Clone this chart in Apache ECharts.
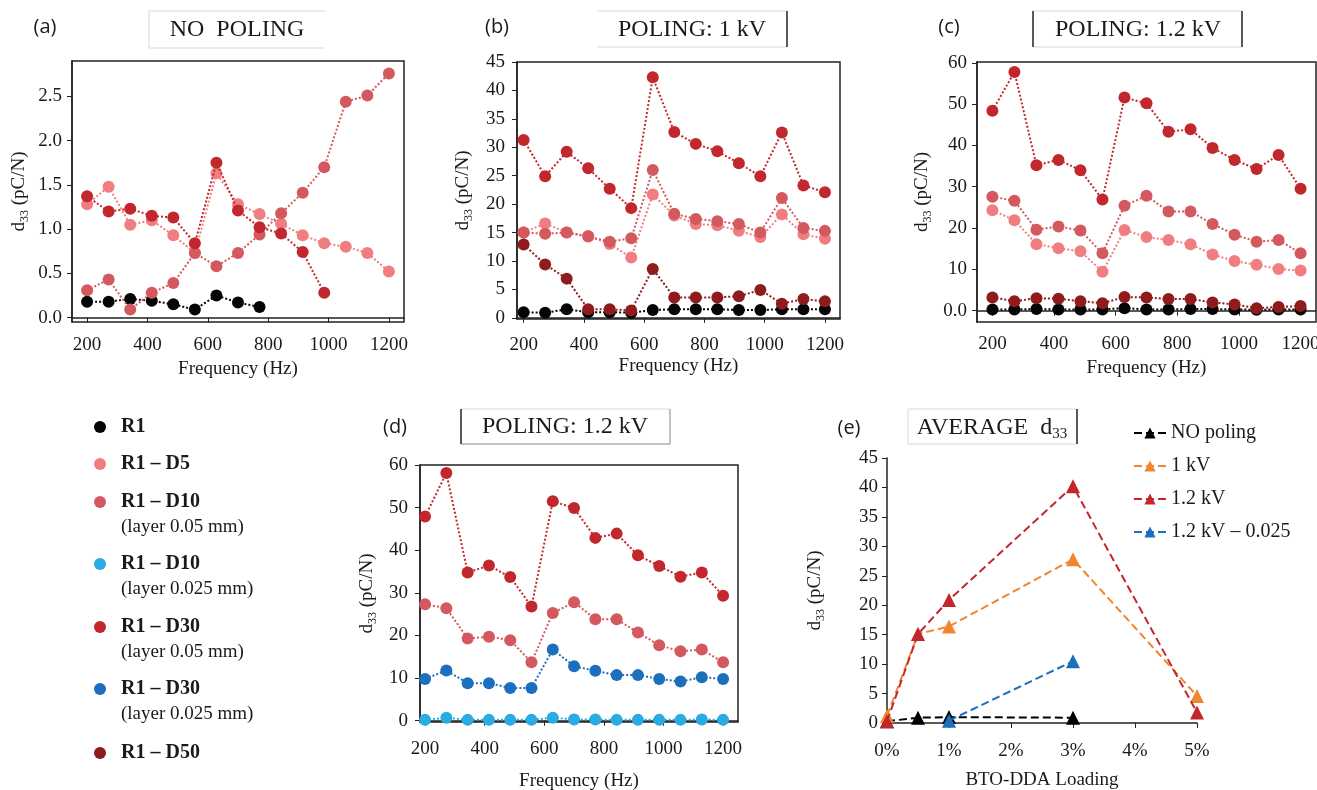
<!DOCTYPE html>
<html>
<head>
<meta charset="utf-8">
<script src="https://cdn.jsdelivr.net/npm/echarts@6/dist/echarts.min.js"></script>
<style>
  html, body { margin: 0; background: #fff; }
  #chart { width: 1317px; height: 790px; }
</style>
</head>
<body>
<div id="chart"></div>
<script>
// frequencies (Hz) of the measurement points
const freq = [200, 271.4, 342.9, 414.3, 485.7, 557.1, 628.6, 700, 771.4, 842.9, 914.3, 985.7, 1057.1, 1128.6, 1200]
const freqTicks = [200, 400, 600, 800, 1000, 1200]

// (a) no poling
const aR1 = [0.18, 0.18, 0.21, 0.19, 0.15, 0.09, 0.25, 0.17, 0.12]
const aD5 = [1.28, 1.48, 1.05, 1.10, 0.93, 0.73, 1.63, 1.28, 1.17, 1.06, 0.93, 0.84, 0.80, 0.73, 0.52]
const aD10 = [0.31, 0.43, 0.09, 0.28, 0.39, 0.73, 0.58, 0.73, 0.94, 1.18, 1.41, 1.70, 2.44, 2.51, 2.76]
const aD30 = [1.37, 1.20, 1.23, 1.15, 1.13, 0.84, 1.75, 1.21, 1.02, 0.95, 0.74, 0.28]
const aTicks = [0, 0.5, 1, 1.5, 2, 2.5]

// (b) poling 1 kV
const bR1 = [1.0, 0.9, 1.5, 1.0, 1.0, 0.9, 1.4, 1.5, 1.5, 1.5, 1.4, 1.4, 1.5, 1.5, 1.5]
const bD5 = [15.0, 16.6, 15.0, 14.4, 13.0, 10.6, 21.7, 18.0, 16.5, 16.3, 15.3, 14.2, 18.2, 14.7, 13.9]
const bD10 = [15.0, 14.8, 15.0, 14.3, 13.4, 14.0, 26.0, 18.3, 17.4, 17.0, 16.5, 15.0, 21.1, 15.8, 15.3]
const bD30 = [31.3, 24.9, 29.2, 26.3, 22.7, 19.3, 42.3, 32.7, 30.6, 29.3, 27.2, 24.9, 32.6, 23.3, 22.1]
const bD50 = [12.9, 9.4, 6.9, 1.5, 1.5, 1.3, 8.6, 3.6, 3.6, 3.6, 3.8, 4.9, 2.5, 3.3, 2.9]
const bTicks = [0, 5, 10, 15, 20, 25, 30, 35, 40, 45]

// (c) poling 1.2 kV
const cR1 = [0.3, 0.3, 0.4, 0.3, 0.3, 0.3, 0.6, 0.3, 0.3, 0.4, 0.4, 0.3, 0.2, 0.3, 0.3]
const cD5 = [24.3, 21.9, 16.1, 15.1, 14.4, 9.4, 19.5, 17.8, 17.1, 16.1, 13.6, 12.0, 11.1, 10.1, 9.7]
const cD10 = [27.6, 26.6, 19.6, 20.4, 19.4, 13.9, 25.4, 27.8, 24.0, 24.0, 21.0, 18.4, 16.7, 17.1, 13.9]
const cD30 = [48.4, 57.8, 35.2, 36.5, 34.0, 26.9, 51.6, 50.2, 43.3, 43.9, 39.4, 36.5, 34.3, 37.7, 29.5]
const cD50 = [3.2, 2.3, 3.0, 2.9, 2.3, 1.8, 3.3, 3.2, 2.8, 2.8, 2.0, 1.5, 0.6, 0.9, 1.1]
const cTicks = [0, 10, 20, 30, 40, 50, 60]

// (d) poling 1.2 kV, layer thickness
const dD10 = [27.3, 26.4, 19.3, 19.7, 18.9, 13.7, 25.3, 27.8, 23.8, 23.8, 20.7, 17.7, 16.3, 16.7, 13.7]
const dD30 = [47.9, 58.1, 34.8, 36.4, 33.7, 26.8, 51.5, 49.9, 42.9, 43.9, 38.8, 36.3, 33.8, 34.8, 29.3]
const dD10thin = [0.2, 0.7, 0.2, 0.2, 0.2, 0.2, 0.7, 0.3, 0.3, 0.2, 0.2, 0.2, 0.2, 0.3, 0.2]
const dD30thin = [9.8, 11.8, 8.8, 8.8, 7.7, 7.7, 16.7, 12.8, 11.7, 10.7, 10.7, 9.8, 9.2, 10.2, 9.8]

// (e) average d33 vs loading (%)
const eLoadNoPol = [0, 0.5, 1, 3]
const eNoPol = [0.3, 0.9, 1.0, 0.9]
const eLoad = [0, 0.5, 1, 3, 5]
const e1kV = [1.2, 15.1, 16.4, 27.8, 4.6]
const e12kV = [0.3, 15.1, 20.9, 40.2, 1.8]
const eLoadThin = [1, 3]
const e12kVthin = [0.4, 10.5]
const eTicks = [0, 5, 10, 15, 20, 25, 30, 35, 40, 45]
const eLegend = ['NO poling', '1 kV', '1.2 kV', '1.2 kV \u2013 0.025']

// legend of sample names (left)
const sampleNames = ['R1', 'R1 \u2013 D5', 'R1 \u2013 D10', 'R1 \u2013 D10', 'R1 \u2013 D30', 'R1 \u2013 D30', 'R1 \u2013 D50']
const sampleNotes = ['', '', '(layer 0.05 mm)', '(layer 0.025 mm)', '(layer 0.05 mm)', '(layer 0.025 mm)', '']

const colR1 = '#050505'
const colD5 = '#f07e80'
const colD10 = '#d4595e'
const colD10thin = '#2aabe2'
const colD30 = '#c2272d'
const colD30thin = '#1c6fbd'
const colD50 = '#8f1b1d'
const sampleColors = [colR1, colD5, colD10, colD10thin, colD30, colD30thin, colD50]

const FONT = 'Liberation Serif'
const INK = '#1a1a1a'

const box = { show: true, borderColor: '#222', borderWidth: 1.5, outerBoundsMode: 'none' }
const grids = [
  Object.assign({ left: 72, top: 61, width: 332, height: 261 }, box),
  Object.assign({ left: 517, top: 62, width: 323, height: 257 }, box),
  Object.assign({ left: 977, top: 62, width: 339, height: 260 }, box),
  Object.assign({ left: 420, top: 465, width: 318, height: 257 }, box),
  { left: 887, top: 458, width: 310, height: 265, outerBoundsMode: 'none' }
]

const yName = {
  name: '{m|d}{s|33}{m| (pC/N)}',
  nameLocation: 'middle',
  nameRotate: 90,
  nameTextStyle: {
    color: INK,
    rich: {
      m: { fontFamily: FONT, fontSize: 19, color: INK },
      s: { fontFamily: FONT, fontSize: 12, color: INK, padding: [12, 0, 0, 0] }
    }
  }
}

const plain = v => String(v)

const freqAxis = (i, min, nameGap, margin) => ({
  type: 'value', gridIndex: i, min: min, max: 1250,
  name: 'Frequency (Hz)', nameLocation: 'middle', nameGap: nameGap,
  nameTextStyle: { fontFamily: FONT, fontSize: 19, color: INK },
  axisLine: { lineStyle: { color: '#222', width: 1.5 } },
  axisTick: { customValues: freqTicks, length: 5, lineStyle: { color: '#222' } },
  axisLabel: { customValues: freqTicks, fontFamily: FONT, fontSize: 19, color: INK, margin: margin, formatter: plain },
  splitLine: { show: false }
})

const valAxis = (i, min, max, ticks, fmt, nameGap, margin) => Object.assign({
  type: 'value', gridIndex: i, min: min, max: max, nameGap: nameGap,
  axisLine: { show: true, lineStyle: { color: '#222', width: 1.5 } },
  axisTick: { show: true, customValues: ticks, length: 5, lineStyle: { color: '#222' } },
  axisLabel: { customValues: ticks, fontFamily: FONT, fontSize: 19, color: INK, margin: margin, formatter: fmt },
  splitLine: { show: false }
}, yName)

const dots = (name, ys, color, idx, z) => ({
  type: 'line', name: name, xAxisIndex: idx, yAxisIndex: idx, z: z || 2,
  data: ys.map((v, k) => [freq[k], v]),
  symbol: 'circle', symbolSize: 12, showSymbol: true,
  itemStyle: { color: color },
  lineStyle: { color: color, width: 2, type: 'dotted' }
})

const dashes = (name, xs, ys, color, z) => ({
  type: 'line', name: name, xAxisIndex: 4, yAxisIndex: 4, z: z,
  data: ys.map((v, k) => [xs[k], v]),
  symbol: 'triangle', symbolSize: 14,
  itemStyle: { color: color },
  lineStyle: { color: color, width: 2, type: 'dashed' }
})

// title boxes, panel letters and the sample legend
const graphic = []
const txt = (x, y, text, font, extra) => graphic.push({
  type: 'text', x: x, y: y,
  style: Object.assign({ text: text, font: font, fill: INK, textAlign: 'center', textVerticalAlign: 'middle', verticalAlign: 'middle' }, extra || {})
})
const seg = (x1, y1, x2, y2, stroke, w) => graphic.push({
  type: 'line', shape: { x1: x1, y1: y1, x2: x2, y2: y2 }, style: { stroke: stroke, lineWidth: w }
})
const LIGHT = '#d9d9d9'
const DARK = '#222'

const letterFont = '20px "Open Sans"'
txt(45, 27, '(a)', letterFont)
txt(497, 27, '(b)', letterFont)
txt(949, 27, '(c)', letterFont)
txt(395, 427, '(d)', letterFont)
txt(849, 428, '(e)', letterFont)

const titleFont = '24px "Liberation Serif"'
// (a)
seg(149, 11, 325, 11, LIGHT, 1); seg(149, 48, 325, 48, LIGHT, 1); seg(149, 11, 149, 48, LIGHT, 1)
txt(237, 30, 'NO  POLING', titleFont)
// (b)
seg(597, 11, 787, 11, LIGHT, 1); seg(597, 47, 787, 47, LIGHT, 1); seg(787, 11, 787, 47, DARK, 1.5)
txt(692, 30, 'POLING: 1 kV', titleFont)
// (c)
seg(1033, 11, 1242, 11, LIGHT, 1); seg(1033, 47, 1242, 47, LIGHT, 1)
seg(1033, 11, 1033, 47, DARK, 1.5); seg(1242, 11, 1242, 47, DARK, 1.5)
txt(1138, 30, 'POLING: 1.2 kV', titleFont)
// (d)
seg(461, 409, 670, 409, LIGHT, 1); seg(461, 444, 670, 444, '#888', 1)
seg(461, 409, 461, 444, DARK, 1.5); seg(670, 409, 670, 444, '#888', 1)
txt(565, 427, 'POLING: 1.2 kV', titleFont)
// (e)
seg(908, 409, 1077, 409, LIGHT, 1); seg(908, 444, 1077, 444, LIGHT, 1)
seg(908, 409, 908, 444, LIGHT, 1); seg(1077, 409, 1077, 444, DARK, 1.5)
graphic.push({
  type: 'text', x: 992, y: 428,
  style: {
    text: '{m|AVERAGE  d}{s|33}', textAlign: 'center', textVerticalAlign: 'middle', verticalAlign: 'middle',
    rich: {
      m: { font: '24px "Liberation Serif"', fill: INK },
      s: { font: '15px "Liberation Serif"', fill: INK, padding: [12, 0, 0, 0] }
    }
  }
})

const legendRows = [427, 464, 502, 564, 627, 689, 753]
sampleNames.forEach((n, i) => {
  const y = legendRows[i]
  graphic.push({ type: 'circle', shape: { cx: 100, cy: y, r: 6 }, style: { fill: sampleColors[i] } })
  txt(121, y, n, 'bold 20px "Liberation Serif"', { textAlign: 'left' })
  if (sampleNotes[i]) txt(121, y + 25, sampleNotes[i], '19px "Liberation Serif"', { textAlign: 'left' })
})

const zero1 = v => v.toFixed(1)
const zeroDot = v => (v === 0 ? '0.0' : String(v))

const option = {
  animation: false,
  backgroundColor: '#fff',
  grid: grids,
  xAxis: [
    freqAxis(0, 150, 38, 14),
    freqAxis(1, 178, 38, 17),
    freqAxis(2, 150, 37, 13),
    freqAxis(3, 183, 50, 18),
    {
      type: 'value', gridIndex: 4, min: 0, max: 5, interval: 1,
      name: 'BTO-DDA Loading', nameLocation: 'middle', nameGap: 48,
      nameTextStyle: { fontFamily: FONT, fontSize: 19, color: INK },
      axisLine: { lineStyle: { color: '#222', width: 1.5 } },
      axisTick: { length: 5, lineStyle: { color: '#222' } },
      axisLabel: { fontFamily: FONT, fontSize: 19, color: INK, margin: 19, formatter: v => v + '%' },
      splitLine: { show: false }
    }
  ],
  yAxis: [
    valAxis(0, -0.05, 2.9, aTicks, zero1, 41, 10),
    valAxis(1, -0.2, 45, bTicks, plain, 42, 12),
    valAxis(2, -2.75, 60.2, cTicks, zeroDot, 43, 10),
    valAxis(3, -0.3, 60, cTicks, plain, 41, 12),
    valAxis(4, 0, 45, eTicks, plain, 60, 9)
  ],
  legend: {
    data: eLegend, orient: 'vertical', left: 1128, top: 418,
    itemWidth: 32, itemHeight: 14, itemGap: 13,
    textStyle: { fontFamily: FONT, fontSize: 20, color: INK }
  },
  graphic: graphic,
  series: [
    dots('R1', aR1, colR1, 0, 2),
    dots('R1 - D5', aD5, colD5, 0, 3),
    dots('R1 - D10', aD10, colD10, 0, 4),
    dots('R1 - D30', aD30, colD30, 0, 5),

    dots('R1', bR1, colR1, 1, 2),
    dots('R1 - D5', bD5, colD5, 1, 3),
    dots('R1 - D10', bD10, colD10, 1, 4),
    dots('R1 - D50', bD50, colD50, 1, 5),
    dots('R1 - D30', bD30, colD30, 1, 6),

    dots('R1', cR1, colR1, 2, 2),
    dots('R1 - D50', cD50, colD50, 2, 3),
    dots('R1 - D5', cD5, colD5, 2, 4),
    dots('R1 - D10', cD10, colD10, 2, 5),
    dots('R1 - D30', cD30, colD30, 2, 6),

    dots('R1 - D10 thin', dD10thin, colD10thin, 3, 2),
    dots('R1 - D30 thin', dD30thin, colD30thin, 3, 3),
    dots('R1 - D10', dD10, colD10, 3, 4),
    dots('R1 - D30', dD30, colD30, 3, 5),

    dashes(eLegend[0], eLoadNoPol, eNoPol, '#000000', 2),
    dashes(eLegend[1], eLoad, e1kV, '#f0862f', 3),
    dashes(eLegend[2], eLoad, e12kV, '#c2272d', 4),
    dashes(eLegend[3], eLoadThin, e12kVthin, '#1c6fbd', 5)
  ]
}

const chart = echarts.init(document.getElementById('chart'))
chart.setOption(option)
</script>
</body>
</html>
